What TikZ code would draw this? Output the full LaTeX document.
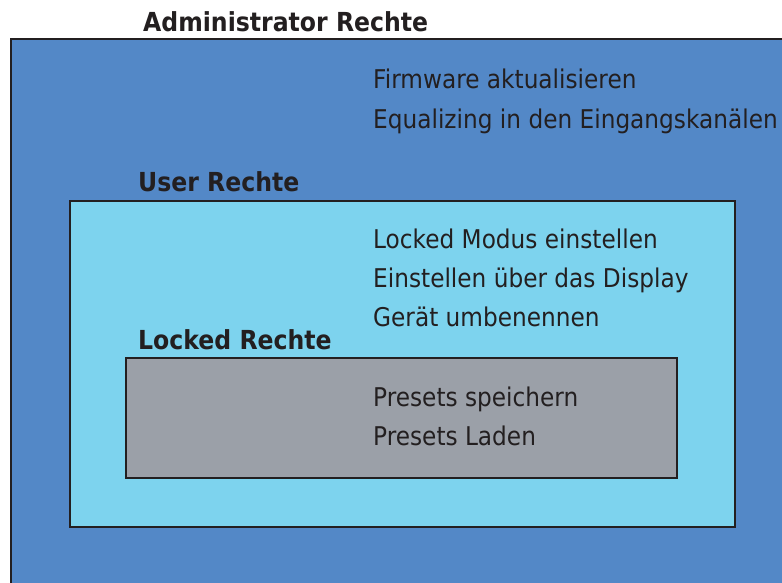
\documentclass[tikz,border=0pt]{standalone}
\usepackage{fontspec}
\setmainfont[FakeStretch=0.9]{DejaVu Sans}
\definecolor{adminblue}{RGB}{83,136,199}
\definecolor{userblue}{RGB}{125,211,238}
\definecolor{lockgray}{RGB}{155,160,168}
\definecolor{inkdark}{RGB}{35,31,32}
\begin{document}
\begin{tikzpicture}[x=1pt,y=-1pt,
  boxstyle/.style={draw=inkdark,line width=2.5pt},
  itemtext/.style={anchor=base west,inner sep=0pt,text=inkdark,font=\fontsize{25.8}{30}\selectfont},
  titletext/.style={anchor=base west,inner sep=0pt,text=inkdark,font=\fontsize{26.2}{30}\selectfont\bfseries}]
\useasboundingbox (0,0) rectangle (782,583);
\clip (0,0) rectangle (782,583);
\fill[white] (0,0) rectangle (782,583);
\draw[boxstyle,fill=adminblue] (11,39) rectangle (800,600);
\draw[boxstyle,fill=userblue] (70,201) rectangle (735,527);
\draw[boxstyle,fill=lockgray] (126,358) rectangle (677,478);
\node[titletext] (admin) at (143,32) {Administrator Rechte};
\node[titletext] (user) at (138,192) {User Rechte};
\node[titletext] (locked) at (138,349) {Locked Rechte};
\node[itemtext] (a1) at (373,89) {Firmware aktualisieren};
\node[itemtext] (a2) at (373,129) {Equalizing in den Eingangskanälen};
\node[itemtext] (u1) at (373,248) {Locked Modus einstellen};
\node[itemtext] (u2) at (373,287) {Einstellen über das Display};
\node[itemtext] (u3) at (373,326) {Gerät umbenennen};
\node[itemtext] (l1) at (373,406) {Presets speichern};
\node[itemtext] (l2) at (373,445) {Presets Laden};
\end{tikzpicture}
\end{document}
